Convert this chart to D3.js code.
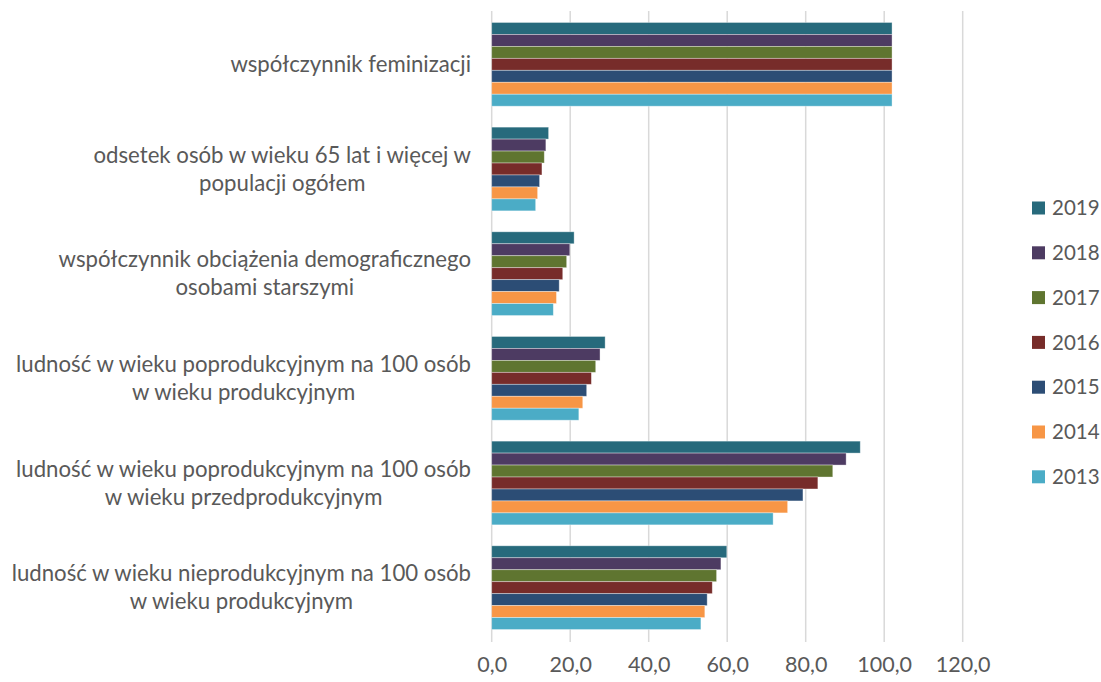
<!DOCTYPE html>
<html>
<head>
<meta charset="utf-8">
<script src="https://cdn.jsdelivr.net/npm/d3@7"></script>
<style>
  body { margin: 0; background: #fff; }
  text { font-family: Lato, "Open Sans", sans-serif; fill: #595959; }
</style>
</head>
<body>
<svg width="1101" height="682"></svg>
<script>
// categories, top to bottom (each label split into its wrapped lines)
var categories = [
  ["współczynnik feminizacji"],
  ["odsetek osób w wieku 65 lat i więcej w", "populacji ogółem"],
  ["współczynnik obciążenia demograficznego", "osobami starszymi"],
  ["ludność w wieku poprodukcyjnym na 100 osób", "w wieku produkcyjnym"],
  ["ludność w wieku poprodukcyjnym na 100 osób", "w wieku przedprodukcyjnym"],
  ["ludność w wieku nieprodukcyjnym na 100 osób", "w wieku produkcyjnym"]
];

var years = ["2019", "2018", "2017", "2016", "2015", "2014", "2013"];

// values per year, same order as categories
var v2019 = [102.0, 14.5, 21.0, 28.9, 93.9, 59.9];
var v2018 = [102.0, 13.8, 19.9, 27.6, 90.3, 58.4];
var v2017 = [102.0, 13.4, 19.1, 26.5, 86.9, 57.3];
var v2016 = [102.0, 12.8, 18.1, 25.4, 83.1, 56.2];
var v2015 = [102.0, 12.2, 17.2, 24.2, 79.3, 54.9];
var v2014 = [102.0, 11.7, 16.5, 23.2, 75.4, 54.3];
var v2013 = [102.0, 11.2, 15.7, 22.2, 71.7, 53.3];
var values = [v2019, v2018, v2017, v2016, v2015, v2014, v2013];

var xTicks = [0, 20, 40, 60, 80, 100, 120];

var colors = ["#276a7c", "#4d3b62", "#5f7530", "#772c2a", "#2c4d75", "#f79646", "#4bacc6"];

var svg = d3.select("svg");
svg.append("rect").attr("width", 1101).attr("height", 682).attr("fill", "#fff");

var x = d3.scaleLinear().domain([0, 120]).range([491.7, 962.7]);
var y = d3.scaleBand().domain(d3.range(categories.length)).range([12, 640])
    .paddingInner(0.2).paddingOuter(0.1);
var yInner = d3.scaleBand().domain(years).range([0, y.bandwidth()]);

// gridlines
svg.append("g").selectAll("line").data(xTicks).enter().append("line")
    .attr("x1", function(d) { return x(d); })
    .attr("x2", function(d) { return x(d); })
    .attr("y1", 11)
    .attr("y2", 642)
    .attr("stroke", "#d9d9d9")
    .attr("stroke-width", 1.5);

// bars
var groups = svg.append("g").selectAll("g").data(years).enter().append("g")
    .attr("fill", function(d, i) { return colors[i]; });

groups.selectAll("rect")
    .data(function(d, i) { return values[i].map(function(v, c) { return {year: d, c: c, v: v}; }); })
    .enter().append("rect")
    .attr("x", x(0))
    .attr("y", function(d) { return y(d.c) + yInner(d.year); })
    .attr("width", function(d) { return x(d.v) - x(0); })
    .attr("height", yInner.bandwidth())
    .attr("stroke", "#fff")
    .attr("stroke-opacity", 0.45)
    .attr("stroke-width", 0.8);

// x axis labels
var xAxis = d3.axisBottom(x).tickValues(xTicks).tickSize(0)
    .tickFormat(function(d) { return d3.format(".1f")(d).replace(".", ","); });
var gx = svg.append("g").attr("transform", "translate(0,654)").call(xAxis);
gx.select(".domain").remove();
gx.selectAll("text").style("font-size", "21.5px").attr("fill", "#595959")
    .style("font-family", "Lato, 'Open Sans', sans-serif");

// category labels: lines centred on each other, block right edge at 471
var labels = svg.append("g").selectAll("g").data(categories).enter().append("g");
labels.each(function(lines, c) {
  var g = d3.select(this);
  var cy = y(c) + y.bandwidth() / 2;
  var n = lines.length;
  var ts = lines.map(function(line, k) {
    return g.append("text")
      .attr("y", cy + (k - (n - 1) / 2) * 28)
      .attr("dy", "0.35em")
      .attr("text-anchor", "middle")
      .style("font-size", "22.2px")
      .text(line);
  });
  var maxW = d3.max(ts, function(t) { return t.node().getComputedTextLength(); });
  ts.forEach(function(t) { t.attr("x", 471 - maxW / 2); });
});

// legend
var legend = svg.append("g").selectAll("g").data(years).enter().append("g")
    .attr("transform", function(d, i) { return "translate(1032," + (208 + i * 44.8) + ")"; });
legend.append("rect")
    .attr("x", 0).attr("y", -6.5)
    .attr("width", 13).attr("height", 13)
    .attr("fill", function(d, i) { return colors[i]; });
legend.append("text")
    .attr("x", 20).attr("dy", "0.35em")
    .style("font-size", "20.5px")
    .text(function(d) { return d; });
</script>
</body>
</html>
